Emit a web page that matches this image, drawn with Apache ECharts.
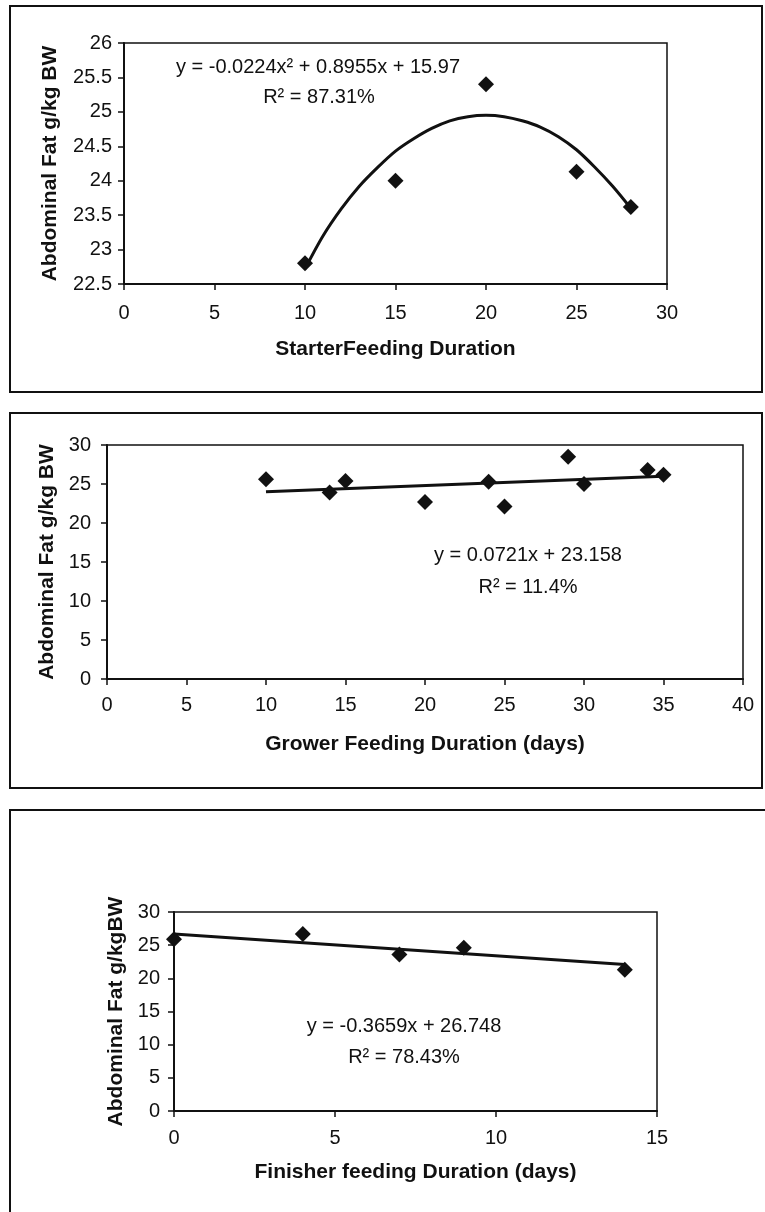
<!DOCTYPE html>
<html>
<head>
<meta charset="utf-8">
<script src="https://cdn.jsdelivr.net/npm/echarts@6/dist/echarts.min.js"></script>
<style>
html,body{margin:0;padding:0;background:#fff;}
#chart{width:765px;height:1212px;}
</style>
</head>
<body>
<div id="chart"></div>
<script>
// ---- Panel 1: Starter feeding duration ----
var starterX = [10, 15, 20, 25, 28];
var starterY = [22.8, 24.0, 25.4, 24.13, 23.62];
var starterCurveX = [10, 11, 12, 13, 14, 15, 16, 17, 18, 19, 20, 21, 22, 23, 24, 25, 26, 27, 28];
var starterCurveY = [22.72, 23.2, 23.59, 23.92, 24.19, 24.43, 24.61, 24.76, 24.87, 24.93, 24.95, 24.93, 24.87, 24.78, 24.64, 24.45, 24.2, 23.92, 23.6];
var starterEq = 'y = -0.0224x² + 0.8955x + 15.97';
var starterR2 = 'R² = 87.31%';

// ---- Panel 2: Grower feeding duration ----
var growerX = [10, 14, 15, 20, 24, 25, 29, 30, 34, 35];
var growerY = [25.6, 23.9, 25.4, 22.7, 25.3, 22.1, 28.5, 25.0, 26.8, 26.2];
var growerTrendX = [10, 35];
var growerTrendY = [24.0, 26.0];
var growerEq = 'y = 0.0721x + 23.158';
var growerR2 = 'R² = 11.4%';

// ---- Panel 3: Finisher feeding duration ----
var finisherX = [0, 4, 7, 9, 14];
var finisherY = [25.9, 26.7, 23.6, 24.6, 21.3];
var finisherTrendX = [0, 14];
var finisherTrendY = [26.7, 22.1];
var finisherEq = 'y = -0.3659x + 26.748';
var finisherR2 = 'R² = 78.43%';

var titles = {
  x1: 'StarterFeeding Duration',
  x2: 'Grower Feeding Duration (days)',
  x3: 'Finisher feeding Duration (days)',
  y1: 'Abdominal Fat g/kg BW',
  y2: 'Abdominal Fat g/kg BW',
  y3: 'Abdominal Fat g/kgBW'
};

function zip(xs, ys) { return xs.map(function (x, i) { return [x, ys[i]]; }); }

var FONT = '"Liberation Sans", Arial, sans-serif';
var BLACK = '#111';

function axisBase(idx, min, max, interval, name, gap, labelMargin) {
  return {
    gridIndex: idx, type: 'value', min: min, max: max, interval: interval,
    name: name, nameLocation: 'middle', nameGap: gap,
    nameTextStyle: { fontFamily: FONT, fontSize: 21, fontWeight: 'bold', color: BLACK },
    axisLine: { show: true, onZero: false, lineStyle: { color: BLACK, width: 2 } },
    axisTick: { show: true, inside: false, length: 6, lineStyle: { color: BLACK, width: 1.5 } },
    axisLabel: { fontFamily: FONT, fontSize: 20, color: BLACK, margin: labelMargin },
    splitLine: { show: false }
  };
}
function scatter(idx, data) {
  return {
    type: 'scatter', xAxisIndex: idx, yAxisIndex: idx, data: data,
    symbol: 'diamond', symbolSize: 16, itemStyle: { color: BLACK, opacity: 1 }, z: 3,
    silent: true
  };
}
function trend(idx, data, smooth) {
  return {
    type: 'line', xAxisIndex: idx, yAxisIndex: idx, data: data, smooth: smooth,
    showSymbol: false, symbol: 'none', lineStyle: { color: BLACK, width: 3 }, z: 4,
    silent: true
  };
}
function label(x, y, text) {
  return {
    type: 'text', x: x, y: y, z: 10,
    style: { text: text, fontFamily: FONT, fontSize: 20, fill: BLACK, textAlign: 'center', textVerticalAlign: 'middle' }
  };
}
function frame(x, y, w, h) {
  return { type: 'rect', shape: { x: x, y: y, width: w, height: h }, z: 0,
    style: { fill: 'none', stroke: BLACK, lineWidth: 2 } };
}

var chart = echarts.init(document.getElementById('chart'), null, { renderer: 'canvas' });
chart.setOption({
  backgroundColor: '#fff',
  animation: false,
  grid: [
    { left: 124, top: 43, width: 543, height: 241, show: true, borderColor: BLACK, borderWidth: 1.5, backgroundColor: 'transparent' },
    { left: 107, top: 445, width: 636, height: 234, show: true, borderColor: BLACK, borderWidth: 1.5, backgroundColor: 'transparent' },
    { left: 174, top: 912, width: 483, height: 199, show: true, borderColor: BLACK, borderWidth: 1.5, backgroundColor: 'transparent' }
  ],
  xAxis: [
    axisBase(0, 0, 30, 5, titles.x1, 55, 19),
    axisBase(1, 0, 40, 5, titles.x2, 55, 16),
    axisBase(2, 0, 15, 5, titles.x3, 51, 17)
  ],
  yAxis: [
    axisBase(0, 22.5, 26, 0.5, titles.y1, 63, 12),
    axisBase(1, 0, 30, 5, titles.y2, 49, 16),
    axisBase(2, 0, 30, 5, titles.y3, 47, 14)
  ],
  series: [
    scatter(0, zip(starterX, starterY)),
    trend(0, zip(starterCurveX, starterCurveY), 0.3),
    scatter(1, zip(growerX, growerY)),
    trend(1, zip(growerTrendX, growerTrendY), false),
    scatter(2, zip(finisherX, finisherY)),
    trend(2, zip(finisherTrendX, finisherTrendY), false)
  ],
  graphic: [
    frame(10, 6, 752, 386),
    frame(10, 413, 752, 375),
    frame(10, 810, 800, 450),
    label(318, 67, starterEq),
    label(319, 97, starterR2),
    label(528, 555, growerEq),
    label(528, 587, growerR2),
    label(404, 1026, finisherEq),
    label(404, 1057, finisherR2)
  ]
});
</script>
</body>
</html>
